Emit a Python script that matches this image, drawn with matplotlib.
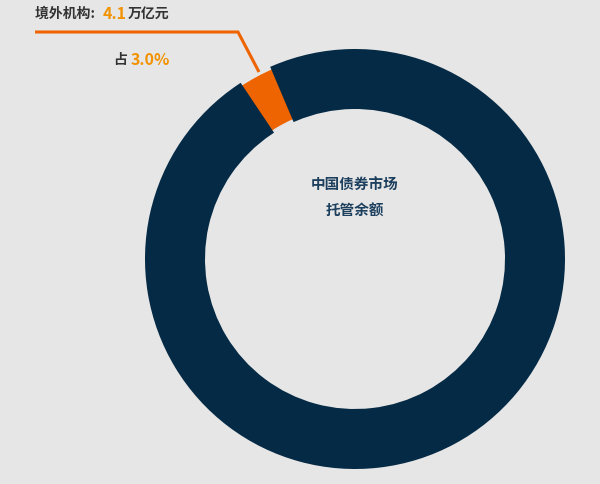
import matplotlib
import matplotlib.pyplot as plt

matplotlib.use('Agg')
plt.rcParams['font.family'] = ['Noto Sans CJK SC', 'DejaVu Sans']

# 数据
labels = ['境外机构', '其他']
shares = [3.0, 97.0]
colors = ['#ee6400', '#052a45']
amount_text = '4.1'
share_text = '3.0%'
center_title = '中国债券市场\n托管余额'

BG = '#e6e6e6'
ORANGE_TXT = '#f39200'
NAVY = colors[1]

fig = plt.figure(figsize=(6, 4.85), dpi=100, facecolor=BG)
ax = fig.add_axes([0, 0, 1, 1])
ax.set_facecolor(BG)

# 圆环, 像素坐标 (y 向上); 深色扇区带同色描边, 压住橙色两侧
cx, cy = 355, 485 - 260
border = 6  # px
wedges, _ = ax.pie(shares, colors=colors, startangle=113, counterclock=True,
                   radius=210 - border / 2, center=(cx, cy),
                   wedgeprops=dict(width=60 - border, edgecolor='none'))
wedges[1].set_edgecolor(NAVY)
wedges[1].set_linewidth(border * 0.72)
wedges[1].set_zorder(3)
wedges[0].set_zorder(2)
ax.set_xlim(0, 600)
ax.set_ylim(0, 485)
ax.set_aspect('equal')
ax.axis('off')

# 引线
ax.plot([35, 238, 259], [485 - 33, 485 - 33, 485 - 73], color='#ee6400', lw=2.2,
        solid_capstyle='butt', solid_joinstyle='miter', zorder=4)

# 标注文字
ax.text(35, 485 - 14, labels[0] + ': ', fontsize=10, fontweight='bold', color='#333333',
        ha='left', va='center')
ax.text(103, 485 - 14, amount_text, fontsize=11.5, fontweight='bold', color=ORANGE_TXT,
        ha='left', va='center')
ax.text(128, 485 - 14, '万亿元', fontsize=10, fontweight='bold', color='#333333',
        ha='left', va='center')
ax.text(113, 485 - 60, '占', fontsize=10, fontweight='bold', color='#333333',
        ha='left', va='center')
ax.text(131, 485 - 60, share_text, fontsize=11.5, fontweight='bold', color=ORANGE_TXT,
        ha='left', va='center')

ax.text(cx, 485 - 197, center_title, fontsize=10.5, fontweight='bold', color='#1d3f5e',
        ha='center', va='center', linespacing=1.7)

fig.savefig('out.png', dpi=100, facecolor=BG)
